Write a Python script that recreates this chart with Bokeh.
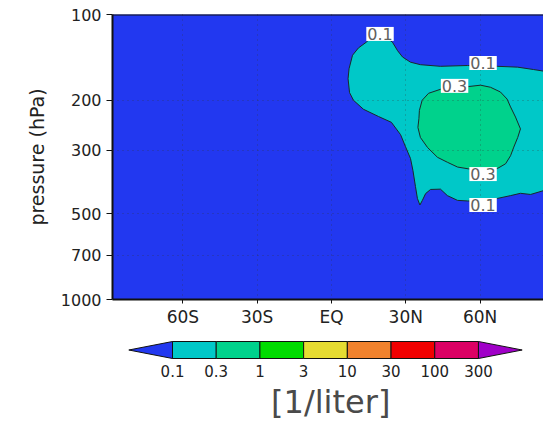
from bokeh.plotting import figure
from bokeh.models import (Range1d, FixedTicker, PrintfTickFormatter, Span,
                          ColumnDataSource)
from bokeh.layouts import column
from bokeh.core.properties import value
from bokeh.embed import file_html
from bokeh.resources import INLINE

# ---------------- data ----------------
lat_ticks = [-60, -30, 0, 30, 60]
lat_labels = ["60S", "30S", "EQ", "30N", "60N"]
p_ticks = [100, 200, 300, 500, 700, 1000]

# 0.1 /liter contour (lat, hPa)
c01_lat = [14.1, 10.9, 8.5, 7.1, 6.7, 7.3, 8.9, 12.9, 19.0, 24.2, 27.9, 29.9,
           31.9, 32.9, 33.9, 34.7, 35.7, 36.7, 38.0, 40.0, 44.0, 46.8, 50.9,
           54.9, 61.0, 67.0, 72.3, 76.3, 80.4, 85.6, 90.0, 90.0, 85.6, 81.6,
           75.1, 67.0, 61.0, 54.9, 44.0, 35.9, 31.9, 28.7, 26.7, 24.6, 21.8,
           18.2, 15.8]
c01_p = [125, 131, 139, 155, 168, 188, 200, 215, 228, 239, 264, 291,
         320, 353, 401, 442, 466, 449, 425, 411, 410, 432, 449,
         451, 453, 442, 432, 424, 428, 415, 412, 159, 158, 156,
         153, 152, 152, 151, 152, 150, 147, 141, 134, 125, 120,
         119, 121]

# 0.3 /liter contour (lat, hPa)
c03_lat = [39.2, 44.0, 49.7, 55.3, 60.2, 64.2, 68.2, 70.9, 72.3, 74.3, 76.3,
           75.2, 73.6, 72.3, 70.3, 67.0, 61.0, 55.3, 50.9, 46.8, 42.8, 38.8,
           35.9, 34.9, 35.3, 35.5, 36.6]
c03_p = [189, 183, 179, 179, 177, 180, 187, 198, 211, 229, 252,
         270, 292, 313, 334, 347, 353, 348, 343, 330, 317, 293,
         270, 249, 232, 217, 200]

# contour labels
lab_lat = [19.6, 61.2, 49.7, 61.2, 61.2]
lab_p = [117, 148, 178, 363, 466]
lab_text = ["0.1", "0.1", "0.3", "0.3", "0.1"]

# colour scale
cb_labels = ["0.1", "0.3", "1", "3", "10", "30", "100", "300"]
cb_colors = ["#00C8C8", "#00D28C", "#00DC00", "#E6DC32", "#F0822D",
             "#F00000", "#DC0064"]
below_color = "#2238F0"
above_color = "#A000C8"
units = "[1/liter]"

FONT = "DejaVu Sans"
TXT = "#222222"

# ---------------- main panel ----------------
p = figure(width=543, height=330, output_backend="svg", toolbar_location=None,
           y_axis_type="log",
           x_range=Range1d(-88.4, 85.6), y_range=Range1d(1000, 100),
           min_border_left=112, min_border_right=0, min_border_top=14,
           min_border_bottom=31)
p.background_fill_color = below_color
p.border_fill_color = "white"
p.outline_line_color = None

p.patch(c01_lat, c01_p, fill_color=cb_colors[0], line_color="#1a2a2a",
        line_width=1)
p.patch(c03_lat, c03_p, fill_color=cb_colors[1], line_color="#1a2a2a",
        line_width=1)

lab_src = ColumnDataSource(dict(x=lab_lat, y=lab_p, t=lab_text))
tr = p.text(x="x", y="y", text="t", source=lab_src,
            text_font=value(FONT), text_font_size="16px", text_color="#606060",
            text_align="center", text_baseline="middle",
            background_fill_color="white", padding=1)
tr.level = "overlay"

# axes
p.xaxis.ticker = FixedTicker(ticks=lat_ticks)
p.xaxis.major_label_overrides = {t: l for t, l in zip(lat_ticks, lat_labels)}
p.yaxis.ticker = FixedTicker(ticks=p_ticks)
p.yaxis.formatter = PrintfTickFormatter(format="%d")
p.yaxis.axis_label = "pressure (hPa)"

for ax in (p.xaxis[0], p.yaxis[0]):
    ax.axis_line_width = 2
    ax.axis_line_color = "#111111"
    ax.major_tick_line_color = "#111111"
    ax.major_tick_in = 0
    ax.minor_tick_line_color = None
    ax.major_label_text_font = FONT
    ax.major_label_text_color = TXT
p.xaxis.major_tick_out = 4
p.xaxis.major_label_standoff = 3
p.xaxis.major_label_text_font_size = "17px"
p.yaxis.major_tick_out = 6
p.yaxis.major_label_standoff = 5
p.yaxis.major_label_text_font_size = "16px"
p.yaxis.axis_label_text_font = FONT
p.yaxis.axis_label_text_font_size = "19px"
p.yaxis.axis_label_text_font_style = "normal"
p.yaxis.axis_label_text_color = TXT
p.yaxis.axis_label_standoff = 10

for g in (p.xgrid[0], p.ygrid[0]):
    g.grid_line_color = "#333333"
    g.grid_line_alpha = 0.5
    g.grid_line_dash = "1 4"
    g.grid_line_width = 1
    g.level = "annotation"
p.ygrid.ticker = FixedTicker(ticks=p_ticks)
p.xgrid.ticker = FixedTicker(ticks=lat_ticks)

p.add_layout(Span(location=100, dimension="width", line_color="#111111",
                  line_width=2))

# ---------------- colour bar ----------------
# frame is aligned with the main panel's frame (page x 112..543)
n = len(cb_colors)
cb = figure(width=543, height=90, output_backend="svg", toolbar_location=None,
            x_range=Range1d(-1.373, 8.488), y_range=Range1d(0, 90),
            min_border_left=112, min_border_right=0, min_border_top=0,
            min_border_bottom=0)
cb.axis.visible = False
cb.grid.visible = False
cb.outline_line_color = None
cb.background_fill_color = "white"

y_top, y_bot = 79, 62
ym = (y_top + y_bot) / 2
idx = list(range(n))
cb.quad(left=idx, right=[i + 1 for i in idx], top=y_top, bottom=y_bot,
        fill_color=cb_colors, line_color="#111111", line_width=1)
cb.patch([0, -1.0, 0], [y_top, ym, y_bot], fill_color=below_color,
         line_color="#111111", line_width=1)
cb.patch([n, n + 1.0, n], [y_top, ym, y_bot], fill_color=above_color,
         line_color="#111111", line_width=1)
cb.text(x=list(range(len(cb_labels))), y=[50] * len(cb_labels),
        text=cb_labels, text_font=value(FONT), text_font_size="15px",
        text_color=TXT, text_align="center", text_baseline="middle")
cb.text(x=[n / 2 + 0.12], y=[19], text=[units], text_font=value(FONT),
        text_font_size="32px", text_color="#4a4a4a", text_align="center",
        text_baseline="middle")

layout = column(p, cb, spacing=0)
open("out.html", "w").write(file_html(layout, INLINE))
